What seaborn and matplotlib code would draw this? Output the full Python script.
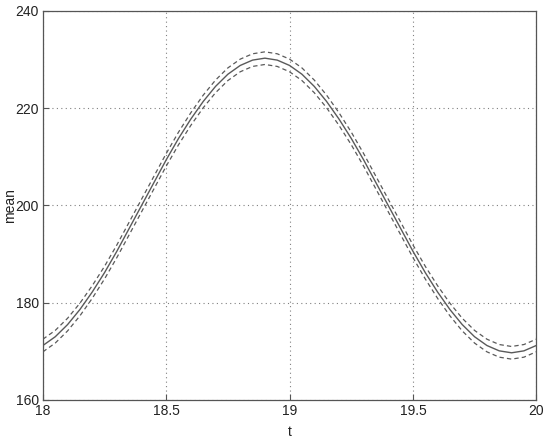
import matplotlib

matplotlib.use("Agg")
import matplotlib.pyplot as plt
import numpy as np
import pandas as pd
import seaborn as sns

# values
t = [
    18.00, 18.05, 18.10, 18.15, 18.20, 18.25, 18.30, 18.35, 18.40, 18.45,
    18.50, 18.55, 18.60, 18.65, 18.70, 18.75, 18.80, 18.85, 18.90, 18.95,
    19.00, 19.05, 19.10, 19.15, 19.20, 19.25, 19.30, 19.35, 19.40, 19.45,
    19.50, 19.55, 19.60, 19.65, 19.70, 19.75, 19.80, 19.85, 19.90, 19.95,
    20.00,
]
mean = [
    171.2, 173.0, 175.5, 178.6, 182.2, 186.2, 190.6, 195.3, 200.0, 204.7,
    209.4, 213.8, 217.8, 221.4, 224.5, 227.0, 228.8, 229.9, 230.3, 229.9,
    228.8, 227.0, 224.5, 221.4, 217.8, 213.8, 209.4, 204.7, 200.0, 195.3,
    190.6, 186.2, 182.2, 178.6, 175.5, 173.0, 171.2, 170.1, 169.7, 170.1,
    171.2,
]
upper = [
    172.5, 174.3, 176.8, 179.9, 183.5, 187.5, 191.9, 196.6, 201.3, 206.0,
    210.7, 215.1, 219.1, 222.7, 225.8, 228.3, 230.1, 231.2, 231.6, 231.2,
    230.1, 228.3, 225.8, 222.7, 219.1, 215.1, 210.7, 206.0, 201.3, 196.6,
    191.9, 187.5, 183.5, 179.9, 176.8, 174.3, 172.5, 171.4, 171.0, 171.4,
    172.5,
]
lower = [
    169.9, 171.7, 174.2, 177.3, 180.9, 184.9, 189.3, 194.0, 198.7, 203.4,
    208.1, 212.5, 216.5, 220.1, 223.2, 225.7, 227.5, 228.6, 229.0, 228.6,
    227.5, 225.7, 223.2, 220.1, 216.5, 212.5, 208.1, 203.4, 198.7, 194.0,
    189.3, 184.9, 180.9, 177.3, 174.2, 171.7, 169.9, 168.8, 168.4, 168.8,
    169.9,
]
x_ticks = [18, 18.5, 19, 19.5, 20]
x_labels = ["18", "18.5", "19", "19.5", "20"]
y_ticks = [160, 180, 200, 220, 240]

df = pd.DataFrame({"t": t, "mean": mean, "upper": upper, "lower": lower})

sns.set_style("white")
plt.rcParams["font.family"] = ["Liberation Sans", "DejaVu Sans"]

fig = plt.figure(figsize=(5.5, 4.4), dpi=100)
ax = fig.add_axes([0.078, 0.091, 0.897, 0.884])

line_col = "#5a5a5a"
dash = (0, (3.5, 2.5))
sns.lineplot(data=df, x="t", y="mean", ax=ax, color=line_col, linewidth=1.0)
sns.lineplot(data=df, x="t", y="upper", ax=ax, color=line_col, linewidth=0.9,
             linestyle=dash)
sns.lineplot(data=df, x="t", y="lower", ax=ax, color=line_col, linewidth=0.9,
             linestyle=dash)

ax.set_xlim(18, 20)
ax.set_ylim(160, 240)
ax.set_xticks(x_ticks)
ax.set_xticklabels(x_labels)
ax.set_yticks(y_ticks)

ax.grid(True, linestyle=(0, (1, 3)), color="#808080", linewidth=0.8)
for side in ["top", "right", "bottom", "left"]:
    ax.spines[side].set_visible(True)
    ax.spines[side].set_color("#555555")
    ax.spines[side].set_linewidth(0.9)

ax.tick_params(direction="in", length=4, width=0.8, color="#555555",
               labelsize=10, labelcolor="#222222", pad=3,
               bottom=True, left=True, top=False, right=False)

ax.set_xlabel("t", fontsize=10, color="#222222")
ax.set_ylabel("mean", fontsize=10, color="#222222")
ax.xaxis.set_label_coords(0.5, -0.064)
ax.yaxis.set_label_coords(-0.053, 0.5)

fig.savefig("out.png", dpi=100)
